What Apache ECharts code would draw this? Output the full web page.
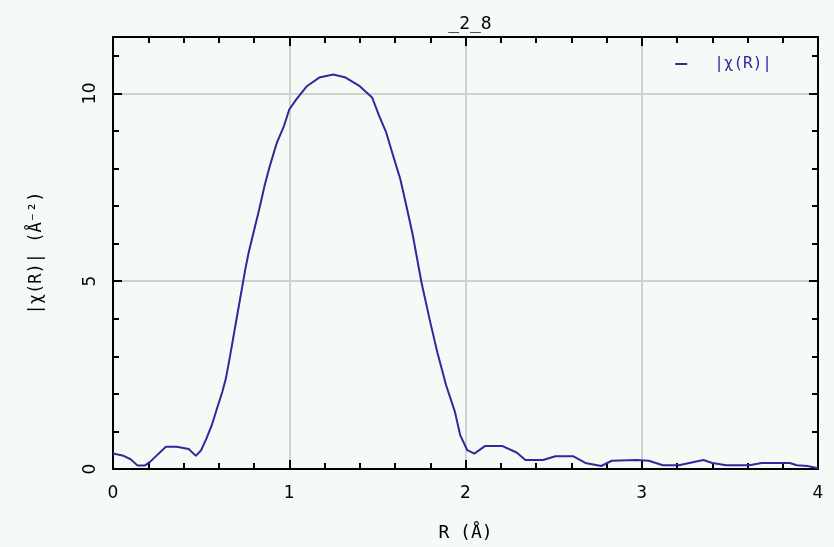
<!DOCTYPE html>
<html>
<head>
<meta charset="utf-8">
<script src="https://cdn.jsdelivr.net/npm/echarts@6/dist/echarts.min.js"></script>
<style>
html,body{margin:0;padding:0;background:#f6faf7;}
#c{width:834px;height:547px;}
</style>
</head>
<body>
<div id="c"></div>
<script>
const rValues = [0,0.06,0.10,0.14,0.18,0.21,0.30,0.36,0.43,0.47,0.50,0.53,0.56,0.59,0.62,0.64,0.66,0.69,0.72,0.75,0.77,0.83,0.86,0.89,0.93,0.97,1.00,1.04,1.10,1.17,1.25,1.32,1.40,1.47,1.51,1.55,1.59,1.63,1.66,1.70,1.75,1.80,1.84,1.89,1.94,1.97,2.01,2.05,2.11,2.21,2.29,2.34,2.44,2.51,2.61,2.68,2.77,2.83,2.97,3.04,3.12,3.21,3.27,3.35,3.40,3.48,3.61,3.68,3.84,3.88,3.94,4.00];
const chiR = [0.41,0.35,0.26,0.09,0.09,0.19,0.59,0.59,0.53,0.35,0.50,0.81,1.16,1.61,2.05,2.40,2.9,3.7,4.5,5.3,5.77,6.92,7.54,8.07,8.69,9.13,9.57,9.84,10.19,10.42,10.50,10.42,10.19,9.89,9.40,8.96,8.33,7.72,7.10,6.25,4.97,3.91,3.11,2.23,1.52,0.9,0.5,0.41,0.61,0.61,0.44,0.24,0.24,0.34,0.34,0.16,0.08,0.22,0.24,0.22,0.1,0.1,0.16,0.24,0.16,0.1,0.1,0.16,0.16,0.1,0.08,0.02];
const xTicks = [0,1,2,3,4];
const yTicks = [0,5,10];
const titleText = '_2_8';
const seriesName = '|χ(R)|';
const xName = 'R (Å)';
const yName = '|χ(R)| (Å⁻²)';

const font = 'DejaVu Sans Mono';
const labelFont = 'DejaVu Sans';
const chart = echarts.init(document.getElementById('c'), null, {renderer:'canvas'});
const data = rValues.map((r,i)=>[r, chiR[i]]);
const axisLine = {show:true, onZero:false, lineStyle:{color:'#000', width:2}};
const tick = {show:true, inside:true, length:9, lineStyle:{color:'#000', width:2}};
const minor = {show:true, splitNumber:5, length:6, lineStyle:{color:'#000', width:2}};
chart.setOption({
  backgroundColor:'#f6faf7',
  animation:false,
  title:{text:titleText, left:465, textAlign:'center', top:10, textStyle:{fontFamily:font, fontSize:18, fontWeight:'normal', color:'#000'}},
  legend:{data:[seriesName], right:57, top:51, itemWidth:12, itemHeight:2, icon:'rect',
    textStyle:{fontFamily:font, fontSize:16, color:'#2b2b9b', padding:[0,0,0,22]}},
  grid:{left:113, right:16, top:37, bottom:76},
  xAxis:[{
    type:'value', min:0, max:4, interval:1, position:'bottom',
    name:xName, nameLocation:'middle', nameGap:55,
    nameTextStyle:{fontFamily:font, fontSize:18, color:'#000'},
    axisLine:axisLine, axisTick:tick, minorTick:minor,
    axisLabel:{fontFamily:labelFont, fontSize:17, color:'#000', margin:16, formatter:v=>xTicks.includes(v)?String(v):''},
    splitLine:{show:true, lineStyle:{color:'#cfd3cf', width:2}}
  },{
    type:'value', min:0, max:4, interval:1, position:'top',
    axisLine:axisLine, axisTick:tick, minorTick:minor,
    axisLabel:{show:false}, splitLine:{show:false}
  }],
  yAxis:[{
    type:'value', min:0, max:11.5, interval:5, position:'left',
    name:yName, nameLocation:'middle', nameGap:68, nameRotate:90,
    nameTextStyle:{fontFamily:font, fontSize:17, color:'#000'},
    axisLine:axisLine, axisTick:tick, minorTick:minor,
    axisLabel:{fontFamily:labelFont, fontSize:17, color:'#000', rotate:90, margin:14, formatter:v=>yTicks.includes(v)?String(v):''},
    splitLine:{show:true, lineStyle:{color:'#cfd3cf', width:2}}
  },{
    type:'value', min:0, max:11.5, interval:5, position:'right',
    axisLine:axisLine, axisTick:tick, minorTick:minor,
    axisLabel:{show:false}, splitLine:{show:false}
  }],
  series:[{
    name:seriesName, type:'line', data:data, showSymbol:false, symbol:'none',
    lineStyle:{color:'#2b2b9b', width:2}, itemStyle:{color:'#2b2b9b'}
  }]
});
</script>
</body>
</html>
